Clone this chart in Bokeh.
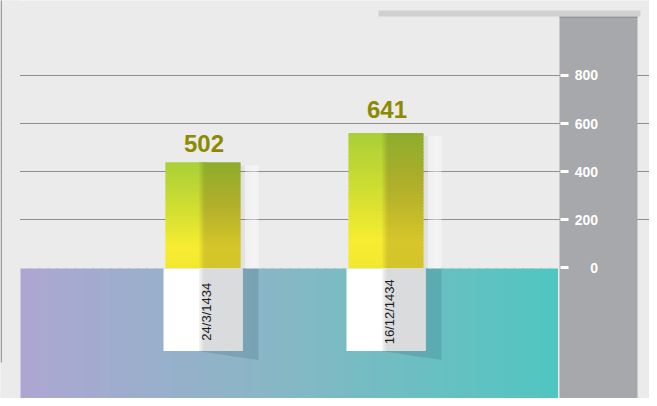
import numpy as np
from bokeh.plotting import figure
from bokeh.models import Range1d, LinearAxis, FixedTicker, Grid
from bokeh.core.properties import value
from bokeh.embed import file_html
from bokeh.resources import INLINE

# ---------------- data ----------------
categories = ["24/3/1434", "16/12/1434"]
values = [502, 641]
tick_values = [0, 200, 400, 600, 800]
grid_values = [200, 400, 600, 800]

# ---------------- layout (based on reference pixels) ----------------
W, H = 649, 398
PAGE = 0
XU = 183.0                      # pixels per category slot
X_START = 0.5 - (202.5 - PAGE) / XU
X_END = X_START + W / XU
Y0, YK = 267.3, 0.2405          # value axis: zero position, px per unit
B0, BK = 268.0, 0.2115          # bar scale: zero position, px per unit
TOP, BOTTOM = PAGE, PAGE + H


def xd(px):
    return X_START + (px - PAGE) / XU


def yd(py):
    return (Y0 - py) / YK


def bd(py):
    return (B0 - py) / BK


def dx(px):
    return px / XU


def dyb(px):
    return px / BK


def hexc(c):
    return "#%02x%02x%02x" % tuple(int(round(v)) for v in c)


def rgb(h):
    return np.array([int(h[i:i + 2], 16) for i in (1, 3, 5)], float)


def grad(stops, t):
    ts = [s[0] for s in stops]
    cs = [rgb(s[1]) for s in stops]
    for k in range(len(ts) - 1):
        if t <= ts[k + 1]:
            f = (t - ts[k]) / (ts[k + 1] - ts[k])
            return hexc(cs[k] + (cs[k + 1] - cs[k]) * f)
    return hexc(cs[-1])


def mix(a, b, f):
    return hexc(rgb(a) + (rgb(b) - rgb(a)) * f)


p = figure(width=W, height=H,
           x_range=Range1d(X_START, X_END), y_range=Range1d(yd(BOTTOM), yd(TOP)),
           x_axis_location=None, y_axis_location=None,
           toolbar_location=None, output_backend="svg",
           min_border=0, background_fill_color="#ebebeb",
           border_fill_color="#ebebeb", outline_line_color=None)
p.extra_y_ranges = {"bar": Range1d(bd(BOTTOM), bd(TOP))}
for r in p.center:
    if isinstance(r, Grid):
        r.visible = False

grid = Grid(dimension=1, ticker=FixedTicker(ticks=grid_values),
            grid_line_color="#8f8f8f", grid_line_width=1)
p.add_layout(grid)

# teal/lavender baseline panel (horizontal gradient)
NT = 60
tx = np.linspace(xd(20), xd(557.5), NT + 1)
tcols = [grad([(0, "#aea6d3"), (0.5, "#85b8c4"), (1, "#50c6c0")], (k + 0.5) / NT) for k in range(NT)]
p.quad(left=tx[:-1], right=np.minimum(tx[1:] + dx(2), tx[-1]), top=0, bottom=bd(BOTTOM + 5),
       y_range_name="bar", fill_color=tcols, line_color=None)

# left margin cover + left rule
p.quad(left=X_START - 1, right=xd(19.5), top=yd(TOP - 5), bottom=yd(BOTTOM + 5),
       fill_color="#ebebeb", line_color=None)
p.segment(x0=xd(PAGE + 0.7), x1=xd(PAGE + 0.7), y0=yd(TOP - 5), y1=yd(362),
          line_color="#8a8a8a", line_width=1.2)

# right axis panel
p.quad(left=xd(559), right=xd(637), top=yd(16), bottom=yd(BOTTOM + 5),
       fill_color="#a7a8ab", line_color=None)
p.segment(x0=xd(559), x1=xd(637), y0=yd(16.5), y1=yd(16.5), line_color="#7e7f82", line_width=1)
p.quad(left=xd(378), right=xd(640), top=yd(10), bottom=yd(16),
       fill_color="#d0d0d0", line_color=None)

# ---------------- bars ----------------
n = len(categories)
xc = np.arange(n) + 0.5
hw = dx(37.5)
WB = bd(350.5)  # bottom of the white label block (bar scale)

left_stops = [(0, "#f2e82f"), (0.2, "#f7ec31"), (0.55, "#d2df31"), (1, "#a9cf38")]
right_stops = [(0, "#d2c42a"), (0.2, "#d6c62a"), (0.6, "#b1af2b"), (1, "#8dad2c")]

for i in range(n):
    v = values[i]
    c = xc[i]
    xl, xr = c - hw, c + hw

    # light side shadow above baseline
    NSH = 8
    sx = np.linspace(xr, xr + dx(18), NSH + 1)
    salpha = [0.05, 0.03, 0.25, 0.35, 0.42, 0.45, 0.45, 0.4]
    scol = ["#000000", "#000000"] + ["#ffffff"] * (NSH - 2)
    p.quad(left=sx[:-1], right=sx[1:], top=v - dyb(3), bottom=0, y_range_name="bar",
           fill_color=scol, fill_alpha=salpha, line_color=None)

    # dark shadow below baseline
    p.patch(x=[c - dx(5), xr + dx(18), xr + dx(18), xr + dx(2), xr + dx(2)],
            y=[WB, WB - dyb(9), 0, 0, WB], y_range_name="bar",
            fill_color="#1f3f55", fill_alpha=0.16, line_color=None)

    # coloured value part: vertical gradient, lighter left half, darker right half,
    # with a soft blend across the split
    NS = 40
    ys = np.linspace(0, v, NS + 1)
    ts = (np.arange(NS) + 0.5) / NS
    lcols = [grad(left_stops, t) for t in ts]
    rcols = [grad(right_stops, t) for t in ts]
    tops = np.minimum(ys[1:] + dyb(1.5), v)
    bx = [xl, c - dx(4), c - dx(2.5), c - dx(1), c + dx(0.5), c + dx(2), xr]
    fr = [0.0, 0.2, 0.45, 0.7, 0.9, 1.0]
    for k in range(len(bx) - 1):
        cols = [mix(a, b, fr[k]) for a, b in zip(lcols, rcols)]
        right_edge = bx[k + 1] + (dx(1) if k < len(bx) - 2 else 0)
        p.quad(left=bx[k], right=right_edge, top=tops, bottom=ys[:-1], y_range_name="bar",
               fill_color=cols, line_color=None)

    # white label block
    p.quad(left=xl - dx(2), right=xr + dx(2), top=0, bottom=WB, y_range_name="bar",
           fill_color="#ffffff", line_color=None)
    gx = np.linspace(c - dx(4), c + dx(1), 6)
    gcols = [grad([(0, "#f6f6f7"), (1, "#dadbdd")], (k + 0.5) / 5) for k in range(5)]
    p.quad(left=gx[:-1], right=gx[1:] + dx(1), top=0, bottom=WB, y_range_name="bar",
           fill_color=gcols, line_color=None)
    p.quad(left=c + dx(1), right=xr + dx(2), top=0, bottom=WB, y_range_name="bar",
           fill_color="#dadbdd", line_color=None)

# category labels (rotated, inside the white blocks)
p.text(x=xc, y=[WB / 2] * n, text=categories, angle=np.pi / 2, x_offset=3, y_offset=2,
       y_range_name="bar", text_align="center", text_baseline="middle",
       text_font=value("Liberation Sans"), text_font_size="13px", text_color="#1a1a1a")

# value labels
p.text(x=xc, y=values, text=[str(v) for v in values], x_offset=1, y_offset=-4,
       text_align="center", text_baseline="middle",
       text_font=value("Liberation Sans"), text_font_size="24px",
       text_font_style="bold", text_color="#8c8a00")

# value axis inside the grey panel
yaxis = LinearAxis(fixed_location=xd(567.5), ticker=FixedTicker(ticks=tick_values),
                   axis_line_color=None,
                   major_tick_line_color="white", major_tick_line_width=3,
                   major_tick_out=8, major_tick_in=0,
                   minor_tick_out=0, minor_tick_in=0,
                   major_label_standoff=-38,
                   major_label_text_color="white", major_label_text_font_size="14px",
                   major_label_text_font_style="bold",
                   major_label_text_font="Liberation Sans")
p.add_layout(yaxis, "left")

open("out.html", "w").write(file_html(p, INLINE))
